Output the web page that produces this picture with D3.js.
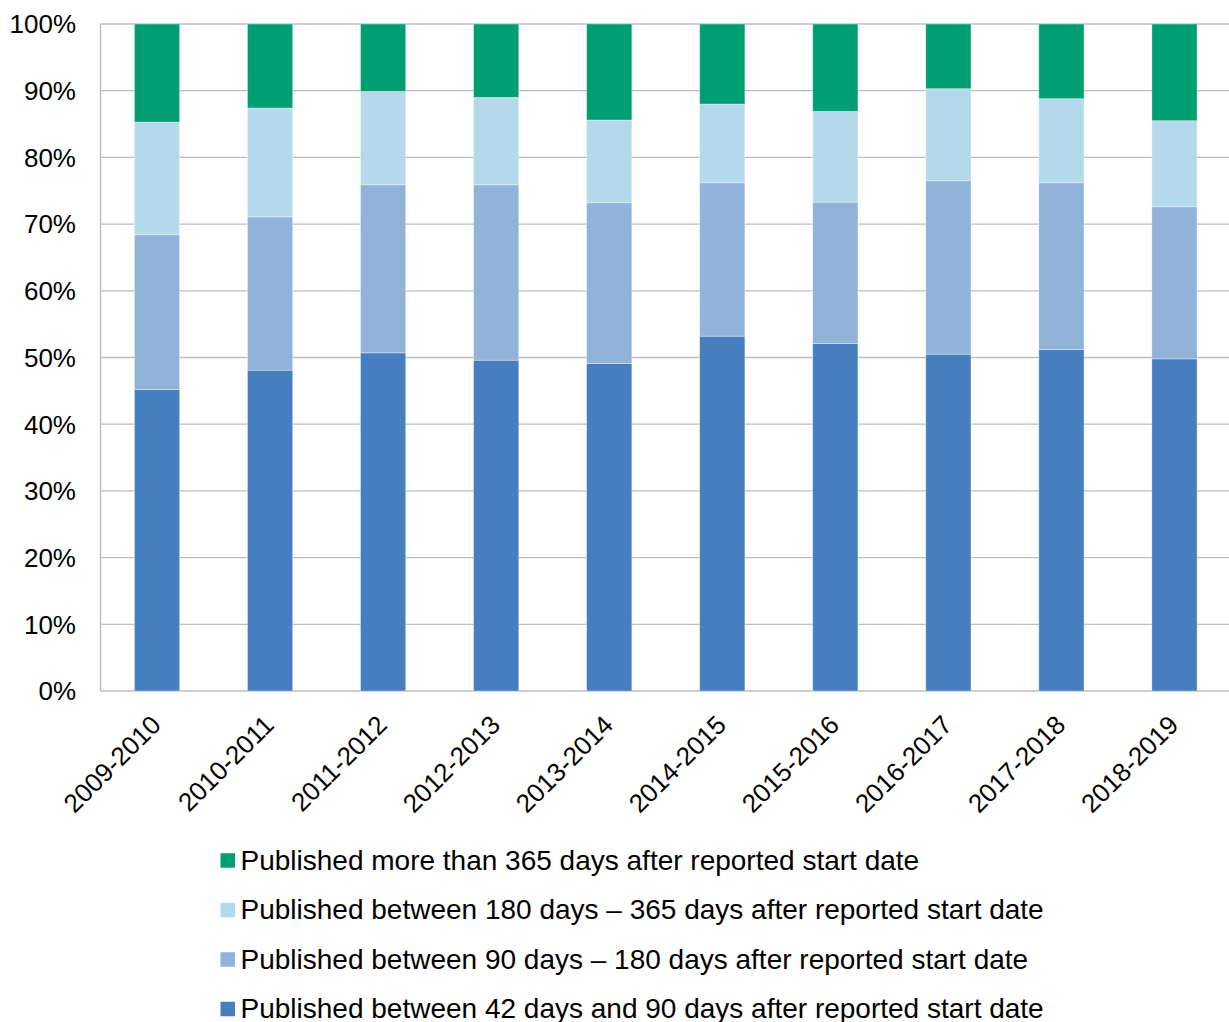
<!DOCTYPE html>
<html>
<head>
<meta charset="utf-8">
<script src="https://cdn.jsdelivr.net/npm/d3@7"></script>
<style>
  html, body { margin: 0; padding: 0; background: #fff; }
  svg { display: block; font-family: "Liberation Sans", Arial, sans-serif; }
</style>
</head>
<body>
<svg id="chart" width="1229" height="1022"></svg>
<script>
// Financial years on the x axis
const years = ["2009-2010", "2010-2011", "2011-2012", "2012-2013", "2013-2014",
               "2014-2015", "2015-2016", "2016-2017", "2017-2018", "2018-2019"];

// Share of publications (%) by delay after reported start date
const within42to90   = [45.2, 48.1, 50.7, 49.6, 49.1, 53.2, 52.1, 50.5, 51.2, 49.8];
const within90to180  = [23.2, 23.0, 25.2, 26.3, 24.1, 23.0, 21.2, 26.0, 25.0, 22.8];
const within180to365 = [16.9, 16.3, 14.0, 13.1, 12.4, 11.8, 13.6, 13.8, 12.6, 12.9];
const over365        = [14.7, 12.6, 10.1, 11.0, 14.4, 12.0, 13.1,  9.7, 11.2, 14.5];

const yTicks = [0, 10, 20, 30, 40, 50, 60, 70, 80, 90, 100];

const seriesNames = [
  "Published between 42 days and 90 days after reported start date",
  "Published between 90 days \u2013 180 days after reported start date",
  "Published between 180 days \u2013 365 days after reported start date",
  "Published more than 365 days after reported start date"
];
const seriesColors = ["#467EC0", "#91B2D9", "#B4D9EB", "#009E73"];

const rows = years.map((y, i) => ({
  year: y,
  s0: within42to90[i],
  s1: within90to180[i],
  s2: within180to365[i],
  s3: over365[i]
}));
const keys = ["s0", "s1", "s2", "s3"];

const svg = d3.select("#chart");
const plot = { left: 100.5, right: 1231, top: 24, bottom: 691 };

const x = d3.scaleBand()
  .domain(years)
  .range([plot.left, plot.right])
  .paddingInner(0.6)
  .paddingOuter(0.3);

const y = d3.scaleLinear()
  .domain([0, 100])
  .range([plot.bottom, plot.top]);

// Horizontal gridlines
svg.append("g")
  .selectAll("line")
  .data(yTicks)
  .join("line")
  .attr("x1", plot.left)
  .attr("x2", 1229)
  .attr("y1", d => y(d))
  .attr("y2", d => y(d))
  .attr("stroke", "#BDBDBD")
  .attr("stroke-width", 1.3);

// Left axis line
svg.append("line")
  .attr("x1", plot.left).attr("x2", plot.left)
  .attr("y1", plot.top).attr("y2", plot.bottom)
  .attr("stroke", "#BDBDBD")
  .attr("stroke-width", 1.4);

// Y tick labels
svg.append("g")
  .selectAll("text")
  .data(yTicks)
  .join("text")
  .attr("x", 76)
  .attr("y", d => y(d))
  .attr("dy", "0.36em")
  .attr("text-anchor", "end")
  .attr("font-size", 26)
  .attr("fill", "#000")
  .text(d => d + "%");

// Stacked bars
const stacked = d3.stack().keys(keys)(rows);
svg.append("g")
  .selectAll("g")
  .data(stacked)
  .join("g")
  .attr("fill", (d, i) => seriesColors[i])
  .selectAll("rect")
  .data(d => d)
  .join("rect")
  .attr("x", d => x(d.data.year))
  .attr("width", x.bandwidth())
  .attr("y", d => y(d[1]))
  .attr("height", d => y(d[0]) - y(d[1]))
  .attr("stroke", "rgba(255,255,255,0.45)")
  .attr("stroke-width", 0.8);

// X category labels, rotated
svg.append("g")
  .selectAll("text")
  .data(years)
  .join("text")
  .attr("transform", d => `translate(${x(d) + x.bandwidth() / 2 - 1},720) rotate(-45)`)
  .attr("dy", "0.35em")
  .attr("text-anchor", "end")
  .attr("font-size", 26)
  .attr("fill", "#000")
  .text(d => d);

// Legend, listed top-down from the uppermost stack segment
const legendOrder = [3, 2, 1, 0];
const legend = svg.append("g")
  .selectAll("g")
  .data(legendOrder)
  .join("g")
  .attr("transform", (d, i) => `translate(220.5,${860.5 + i * 49.5})`);

legend.append("rect")
  .attr("x", 0)
  .attr("y", -7.25)
  .attr("width", 14.5)
  .attr("height", 14.5)
  .attr("fill", d => seriesColors[d]);

legend.append("text")
  .attr("x", 20)
  .attr("y", 9)
  .attr("font-size", 28)
  .attr("fill", "#000")
  .text(d => seriesNames[d]);
</script>
</body>
</html>
